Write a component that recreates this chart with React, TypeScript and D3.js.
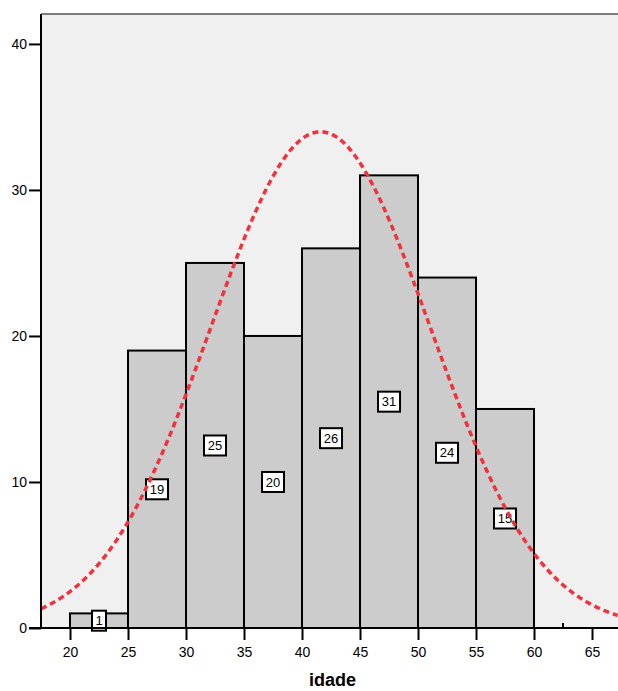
import * as d3 from "d3";
import { useRef, useEffect } from "react";

const binStarts = [20, 25, 30, 35, 40, 45, 50, 55];
const binWidth = 5;
const counts = [1, 19, 25, 20, 26, 31, 24, 15];
const xTicks = [20, 25, 30, 35, 40, 45, 50, 55, 60, 65];
const yTicks = [0, 10, 20, 30, 40];
// fitted normal curve parameters
const curveMean = 41.6;
const curveSd = 9.45;

export default function App() {
  const ref = useRef<SVGSVGElement>(null);

  useEffect(() => {
    const width = 618;
    const height = 691;
    const m = { top: 14, right: 0, bottom: 63, left: 41 };

    const svg = d3.select(ref.current);
    svg.selectAll("*").remove();
    svg.attr("width", width).attr("height", height);

    const x = d3.scaleLinear().domain([17.5, 67.24]).range([m.left, width - m.right]);
    const y = d3.scaleLinear().domain([0, 42.05]).range([height - m.bottom, m.top]);
    const font = "'Liberation Sans', Arial, sans-serif";

    svg.append("rect")
      .attr("x", m.left).attr("y", m.top)
      .attr("width", width - m.left - m.right)
      .attr("height", height - m.bottom - m.top)
      .attr("fill", "#f0f0f0");

    const data = binStarts.map((s, i) => ({ start: s, count: counts[i] }));

    svg.selectAll("rect.bar")
      .data(data)
      .enter()
      .append("rect")
      .attr("class", "bar")
      .attr("x", d => x(d.start))
      .attr("y", d => y(d.count))
      .attr("width", d => x(d.start + binWidth) - x(d.start))
      .attr("height", d => y(0) - y(d.count))
      .attr("fill", "#cccccc")
      .attr("stroke", "#000")
      .attr("stroke-width", 2);

    // count labels
    const lab = svg.selectAll("g.lab")
      .data(data)
      .enter()
      .append("g")
      .attr("class", "lab")
      .attr("transform", d => `translate(${x(d.start + binWidth / 2)}, ${y(d.count / 2)})`);
    lab.append("rect")
      .attr("x", d => -(String(d.count).length * 8 + 6) / 2)
      .attr("y", -10)
      .attr("width", d => String(d.count).length * 8 + 6)
      .attr("height", 20)
      .attr("fill", "#fff")
      .attr("stroke", "#000")
      .attr("stroke-width", 2);
    lab.append("text")
      .text(d => d.count)
      .attr("text-anchor", "middle")
      .attr("dy", "0.36em")
      .style("font-family", font)
      .style("font-size", "13px")
      .attr("fill", "#000");

    // normal curve
    const xs = d3.range(17.5, 67.25, 0.1);
    const total = d3.sum(counts);
    const pdf = (v: number) =>
      (total * binWidth) / (curveSd * Math.sqrt(2 * Math.PI)) *
      Math.exp(-0.5 * ((v - curveMean) / curveSd) ** 2);
    const line = d3.line<number>().x(v => x(v)).y(v => y(pdf(v))).curve(d3.curveBasis);
    svg.append("path")
      .attr("d", line(xs))
      .attr("fill", "none")
      .attr("stroke", "#f0323c")
      .attr("stroke-width", 3.5)
      .attr("stroke-dasharray", "6,4");

    // axes
    const xAxis = svg.append("g")
      .attr("transform", `translate(0, ${y(0)})`)
      .call(d3.axisBottom(x).tickValues(xTicks).tickSize(12).tickSizeOuter(0));
    xAxis.select(".domain").remove();
    xAxis.selectAll(".tick line").attr("stroke", "#000").attr("stroke-width", 2);
    xAxis.selectAll(".tick text")
      .attr("y", 19)
      .style("font-family", font).style("font-size", "14px").attr("fill", "#000");
    // minor tick inside
    svg.append("line")
      .attr("x1", x(62.5)).attr("x2", x(62.5))
      .attr("y1", y(0)).attr("y2", y(0) - 5)
      .attr("stroke", "#000").attr("stroke-width", 2);

    const yAxis = svg.append("g")
      .attr("transform", `translate(${m.left}, 0)`)
      .call(d3.axisLeft(y).tickValues(yTicks).tickSize(12).tickSizeOuter(0));
    yAxis.select(".domain").remove();
    yAxis.selectAll(".tick line").attr("stroke", "#000").attr("stroke-width", 2);
    yAxis.selectAll(".tick text")
      .attr("x", -14)
      .style("font-family", font).style("font-size", "14px").attr("fill", "#000");

    // frame lines
    svg.append("line")
      .attr("x1", 29).attr("x2", width)
      .attr("y1", y(0)).attr("y2", y(0))
      .attr("stroke", "#000").attr("stroke-width", 2);
    svg.append("line")
      .attr("x1", m.left).attr("x2", m.left)
      .attr("y1", m.top).attr("y2", y(0))
      .attr("stroke", "#000").attr("stroke-width", 2);
    svg.append("line")
      .attr("x1", m.left).attr("x2", width)
      .attr("y1", m.top).attr("y2", m.top)
      .attr("stroke", "#555").attr("stroke-width", 1.5);

    svg.append("text")
      .text("idade")
      .attr("x", (m.left + width) / 2 + 3)
      .attr("y", 686)
      .attr("text-anchor", "middle")
      .style("font-family", font)
      .style("font-size", "18px")
      .style("font-weight", "bold")
      .attr("fill", "#000");
  }, []);

  return <svg ref={ref} style={{ position: "absolute", left: 0, top: 0 }}></svg>;
}
